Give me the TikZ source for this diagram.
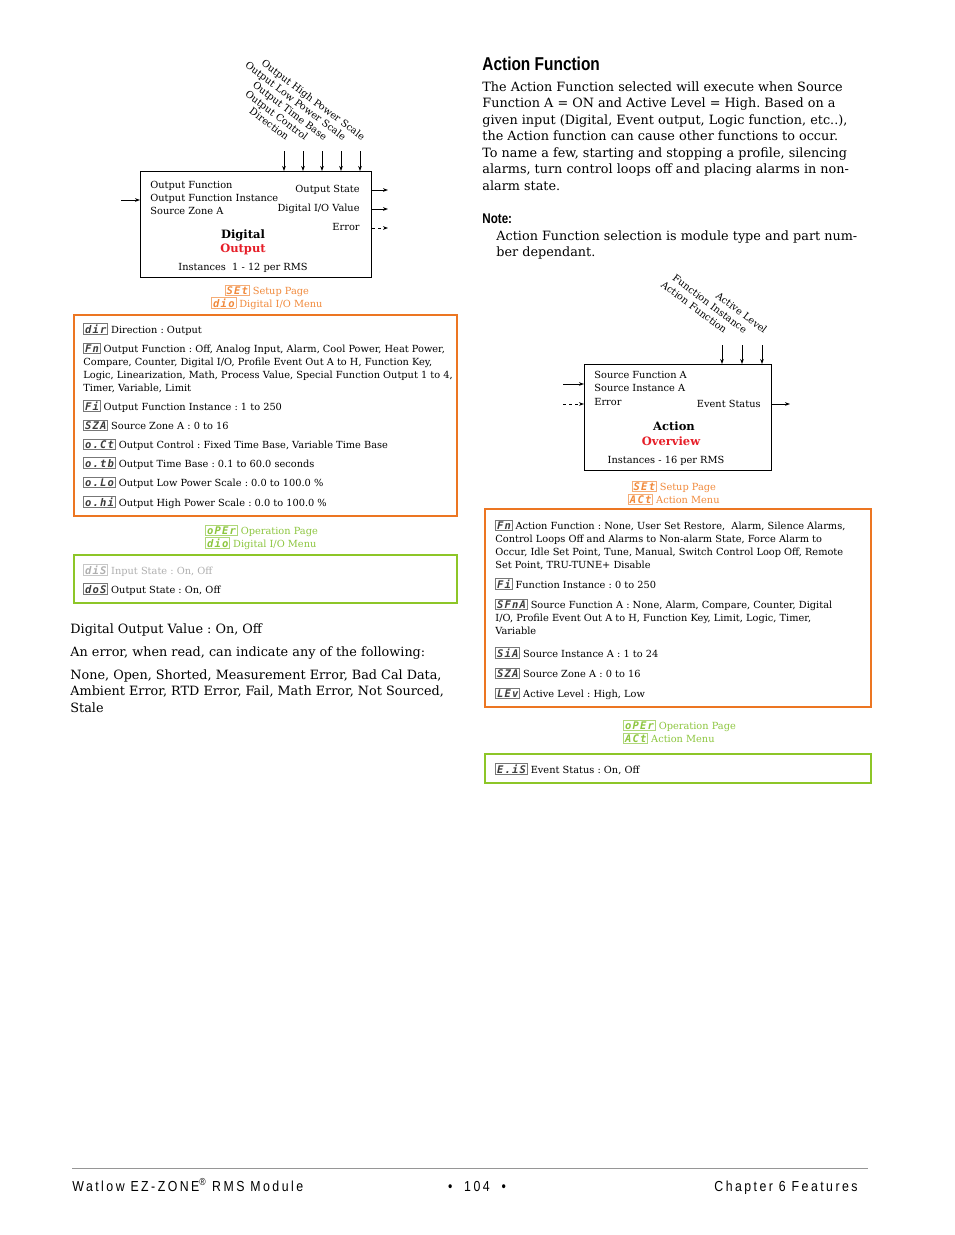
\documentclass[tikz,border=0pt]{standalone}
\usepackage{fontspec}
\setmainfont{DejaVu Serif}
\newfontfamily\headfont[FakeStretch=0.83]{Liberation Sans}
\newfontfamily\footfont[FakeStretch=0.85,LetterSpace=17]{Liberation Sans}
\newfontfamily\segfont[LetterSpace=12]{DejaVu Sans Mono}
\usetikzlibrary{arrows.meta}
\frenchspacing

\definecolor{wlorange}{RGB}{236,118,34}
\definecolor{wlorangetxt}{RGB}{241,138,60}
\definecolor{wlgreen}{RGB}{141,198,40}
\definecolor{wlgreentxt}{RGB}{141,198,63}
\definecolor{wlred}{RGB}{230,30,40}
\definecolor{wlgray}{RGB}{175,175,175}
\definecolor{segdark}{RGB}{60,60,60}
\definecolor{rulegray}{RGB}{150,150,150}

\newcommand\seg[2]{{\fboxsep=1pt\fboxrule=0.6pt\fcolorbox{#1!70}{white}{\textcolor{#1}{\segfont\bfseries\itshape\fontsize{10.5}{10}\selectfont #2}}}}

\tikzset{
  lbl/.style={inner sep=0, font=\fontsize{9.8}{13}\selectfont, anchor=base west},
  rlbl/.style={lbl, anchor=base east},
  vlbl/.style={lbl, rotate=-37, anchor=base east},
  fnbox/.style={draw, line width=0.8pt, inner sep=0, anchor=north west},
  fntitle/.style={lbl, anchor=base, font=\bfseries\fontsize{11.5}{13}\selectfont},
  menubox/.style={draw=#1, line width=1.6pt, inner sep=0, anchor=north west},
  entry/.style={lbl, align=left},
  pagetag/.style={lbl, align=center, anchor=base, font=\fontsize{9.8}{13}\selectfont},
  body/.style={inner sep=0, anchor=base west, align=left, font=\fontsize{12.8}{16.5}\selectfont},
  foot/.style={inner sep=0, anchor=base west, font=\footfont\fontsize{14.5}{16}\selectfont},
}

\begin{document}
\begin{tikzpicture}[x=1pt, y=-1pt, >={Stealth[length=5pt,width=3.6pt]}, line width=0.8pt]
\useasboundingbox[fill=white] (0,0) rectangle (954,1235);

\node[fnbox, minimum width=231pt, minimum height=106pt] (dobox) at (140,171) {};
\foreach \xx/\txt [count=\i] in {284/Direction, 303/Output Control, 322/Output Time Base, 341/Output Low Power Scale, 360/Output High Power Scale} {
  \coordinate (dotop\i) at (\xx,151);
  \node[vlbl] (dolab\i) at (\xx+2,141) {\txt};
  \draw[->] (dotop\i) -- (dotop\i |- dobox.north);
}
\node[lbl] (dofn) at (150,188) {Output Function};
\node[lbl] (dofi) at (150,201) {Output Function Instance};
\node[lbl] (dosz) at (150,214) {Source Zone A};
\coordinate (doin) at (121,200);
\draw[->] (doin) -- (doin -| dobox.west);
\node[rlbl] (dostate) at (360,192) {Output State};
\node[rlbl] (dovalue) at (360,211) {Digital I/O Value};
\node[rlbl] (doerr) at (360,230) {Error};
\coordinate (doout1) at (388,190);
\coordinate (doout2) at (388,209);
\coordinate (doout3) at (388,228);
\draw[->] (dobox.east |- doout1) -- (doout1);
\draw[->] (dobox.east |- doout2) -- (doout2);
\draw[->, dashed] (dobox.east |- doout3) -- (doout3);
\node[fntitle] (dotitle) at (243,238) {Digital};
\node[fntitle, text=wlred] (dosub) at (243,252) {Output};
\node[lbl, anchor=base] (doinst) at (243,270) {Instances\ \ 1 - 12 per RMS};

% multi-line nodes sit on their last baseline
\node[pagetag, text=wlorangetxt] (dosetup) at (267,307) {\seg{wlorangetxt}{SEt} Setup Page\\\seg{wlorangetxt}{dio} Digital I/O Menu};
\node[menubox=wlorange, minimum width=383pt, minimum height=201pt] (domenu) at (73,314) {};
\node[entry] (dodir) at (83,333) {\seg{segdark}{dir} Direction : Output};
\node[entry] (dofunc) at (83,391) {\seg{segdark}{Fn} Output Function : Off, Analog Input, Alarm, Cool Power, Heat Power,\\Compare, Counter, Digital I/O, Profile Event Out A to H, Function Key,\\Logic, Linearization, Math, Process Value, Special Function Output 1 to 4,\\Timer, Variable, Limit};
\node[entry] (dofinst) at (83,410) {\seg{segdark}{Fi} Output Function Instance : 1 to 250};
\node[entry] (dozone) at (83,429) {\seg{segdark}{SZA} Source Zone A : 0 to 16};
\node[entry] (doctrl) at (83,448) {\seg{segdark}{o.Ct} Output Control : Fixed Time Base, Variable Time Base};
\node[entry] (dotb) at (83,467) {\seg{segdark}{o.tb} Output Time Base : 0.1 to 60.0 seconds};
\node[entry] (dolo) at (83,486) {\seg{segdark}{o.Lo} Output Low Power Scale : 0.0 to 100.0 \%};
\node[entry] (dohi) at (83,506) {\seg{segdark}{o.hi} Output High Power Scale : 0.0 to 100.0 \%};

\node[pagetag, anchor=base west, align=left, text=wlgreentxt] (dooper) at (205,547) {\seg{wlgreentxt}{oPEr} Operation Page\\\seg{wlgreentxt}{dio} Digital I/O Menu};
\node[menubox=wlgreen, minimum width=383pt, minimum height=48pt] (dostatus) at (73,554) {};
\node[entry, text=wlgray] (doins) at (83,574) {\seg{wlgray}{diS} Input State : On, Off};
\node[entry] (doouts) at (83,593) {\seg{segdark}{doS} Output State : On, Off};

\node[body] (dovaltxt) at (70,633) {Digital Output Value : On, Off};
\node[body] (doerrtxt) at (70,656) {An error, when read, can indicate any of the following:};
\node[body] (doerrlist) at (70,712) {None, Open, Shorted, Measurement Error, Bad Cal Data,\\Ambient Error, RTD Error, Fail, Math Error, Not Sourced,\\Stale};

\node[inner sep=0, anchor=base west, font=\headfont\bfseries\fontsize{18.6}{20}\selectfont] (afhead) at (482,70) {Action Function};
\node[body] (afpara) at (482,190) {The Action Function selected will execute when Source\\Function A = ON and Active Level = High. Based on a\\given input (Digital, Event output, Logic function, etc..),\\the Action function can cause other functions to occur.\\To name a few, starting and stopping a profile, silencing\\alarms, turn control loops off and placing alarms in non-\\alarm state.};
\node[inner sep=0, anchor=base west, font=\headfont\bfseries\fontsize{14}{16}\selectfont] (afnote) at (482,223) {Note:};
\node[body] (afnotetxt) at (496,256.5) {Action Function selection is module type and part num-\\ber dependant.};

\node[fnbox, minimum width=187pt, minimum height=106pt] (acbox) at (584,364) {};
\foreach \xx/\txt [count=\i] in {722/Action Function, 742/Function Instance, 762/Active Level} {
  \coordinate (actop\i) at (\xx,345);
  \node[vlbl] (aclab\i) at (\xx+2,334) {\txt};
  \draw[->] (actop\i) -- (actop\i |- acbox.north);
}
\node[lbl] (acsf) at (594,378) {Source Function A};
\node[lbl] (acsi) at (594,391) {Source Instance A};
\node[lbl] (acerr) at (594,405) {Error};
\coordinate (acin1) at (563,384);
\coordinate (acin2) at (563,404);
\draw[->] (acin1) -- (acin1 -| acbox.west);
\draw[->, dashed] (acin2) -- (acin2 -| acbox.west);
\node[rlbl] (acev) at (761,407) {Event Status};
\coordinate (acout) at (790,404);
\draw[->] (acbox.east |- acout) -- (acout);
\node[fntitle] (actitle) at (674,430) {Action};
\node[fntitle, text=wlred] (acsub) at (671,445) {Overview};
\node[lbl, anchor=base] (acinst) at (666,463) {Instances - 16 per RMS};

\node[pagetag, text=wlorangetxt] (acsetup) at (674,503) {\seg{wlorangetxt}{SEt} Setup Page\\\seg{wlorangetxt}{ACt} Action Menu};
\node[menubox=wlorange, minimum width=386pt, minimum height=198pt] (acmenu) at (484,508) {};
\node[entry] (acfunc) at (495,568) {\seg{segdark}{Fn} Action Function : None, User Set Restore,\ \ Alarm, Silence Alarms,\\Control Loops Off and Alarms to Non-alarm State, Force Alarm to\\Occur, Idle Set Point, Tune, Manual, Switch Control Loop Off, Remote\\Set Point, TRU-TUNE+ Disable};
\node[entry] (acfinst) at (495,588) {\seg{segdark}{Fi} Function Instance : 0 to 250};
\node[entry] (acsrc) at (495,634) {\seg{segdark}{SFnA} Source Function A : None, Alarm, Compare, Counter, Digital\\I/O, Profile Event Out A to H, Function Key, Limit, Logic, Timer,\\Variable};
\node[entry] (acsinst) at (495,657) {\seg{segdark}{SiA} Source Instance A : 1 to 24};
\node[entry] (aczone) at (495,677) {\seg{segdark}{SZA} Source Zone A : 0 to 16};
\node[entry] (aclev) at (495,697) {\seg{segdark}{LEv} Active Level : High, Low};

\node[pagetag, anchor=base west, align=left, text=wlgreentxt] (acoper) at (623,742) {\seg{wlgreentxt}{oPEr} Operation Page\\\seg{wlgreentxt}{ACt} Action Menu};
\node[menubox=wlgreen, minimum width=386pt, minimum height=29pt] (acstatus) at (484,753) {};
\node[entry] (acevs) at (495,773) {\seg{segdark}{E.iS} Event Status : On, Off};

\draw[rulegray, line width=0.6pt] (72,1168) -- (868,1168);
\node[foot] (ftleft) at (72,1191) {Watlow EZ-ZONE\textsuperscript{®} RMS Module};
\node[foot, anchor=base] (ftpage) at (477,1191) {•\ \ 104\ \ •};
\node[foot, anchor=base east] (ftright) at (858,1191) {Chapter 6 Features};
\end{tikzpicture}
\end{document}
